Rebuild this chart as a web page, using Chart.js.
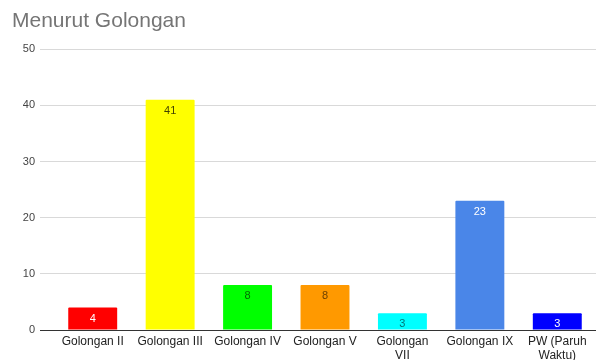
<!DOCTYPE html>
<html>
<head>
<meta charset="utf-8">
<script src="https://cdn.jsdelivr.net/npm/chart.js@4.4.1/dist/chart.umd.min.js"></script>
<style>
html,body{margin:0;padding:0;background:#fff;}
#wrap{width:597px;height:360px;position:relative;}
</style>
</head>
<body>
<div id="wrap"><canvas id="c" width="597" height="360"></canvas></div>
<script>
const categories = ['Golongan II', 'Golongan III', 'Golongan IV', 'Golongan V', ['Golongan', 'VII'], 'Golongan IX', ['PW (Paruh', 'Waktu)']];
const values = [4, 41, 8, 8, 3, 23, 3];
const yTicks = [0, 10, 20, 30, 40, 50];
const barColors = ['#ff0000', '#ffff00', '#00ff00', '#ff9900', '#00ffff', '#4a86e8', '#0000ff'];
const labelColors = ['#ffffff', 'rgba(0,0,0,0.75)', 'rgba(0,0,0,0.6)', 'rgba(0,0,0,0.6)', 'rgba(0,0,0,0.55)', '#ffffff', '#ffffff'];

const FONT = '"Liberation Sans", Arial, sans-serif';

const valueLabels = {
  id: 'valueLabels',
  afterDatasetsDraw(chart) {
    const ctx = chart.ctx;
    const meta = chart.getDatasetMeta(0);
    ctx.save();
    ctx.font = '11px ' + FONT;
    ctx.textAlign = 'center';
    ctx.textBaseline = 'middle';
    meta.data.forEach((bar, i) => {
      ctx.fillStyle = labelColors[i];
      ctx.fillText(String(values[i]), bar.x, bar.y + 11);
    });
    ctx.restore();
  }
};

new Chart(document.getElementById('c'), {
  type: 'bar',
  data: {
    labels: categories,
    datasets: [{
      data: values,
      backgroundColor: barColors,
      borderWidth: 0,
      borderRadius: 1,
      categoryPercentage: 1,
      barPercentage: 0.632
    }]
  },
  options: {
    responsive: false,
    animation: false,
    devicePixelRatio: 1,
    layout: { padding: { left: 12, right: 1, top: 0, bottom: 0 } },
    plugins: {
      legend: { display: false },
      tooltip: { enabled: false },
      title: {
        display: true,
        text: 'Menurut Golongan',
        align: 'start',
        color: '#757575',
        font: { family: FONT, size: 21, weight: 'normal' },
        padding: { top: 9, bottom: 15 }
      }
    },
    scales: {
      x: {
        afterFit(scale) { scale.height = 30; },
        grid: { display: false, drawTicks: false },
        border: { display: false },
        ticks: {
          color: '#222',
          font: { family: FONT, size: 12, lineHeight: 1.15 },
          padding: 5,
          maxRotation: 0,
          autoSkip: false
        }
      },
      y: {
        min: 0,
        max: 50,
        afterFit(scale) { scale.width = 42; },
        afterBuildTicks(scale) { scale.ticks = yTicks.map(v => ({ value: v })); },
        border: { display: false },
        grid: {
          color: ctx => (ctx.tick && ctx.tick.value === 0) ? '#333333' : '#d9d9d9',
          lineWidth: 1,
          tickLength: 14,
          drawTicks: true
        },
        ticks: {
          color: '#444',
          font: { family: FONT, size: 11 },
          padding: 5
        }
      }
    }
  },
  plugins: [valueLabels]
});
</script>
</body>
</html>
